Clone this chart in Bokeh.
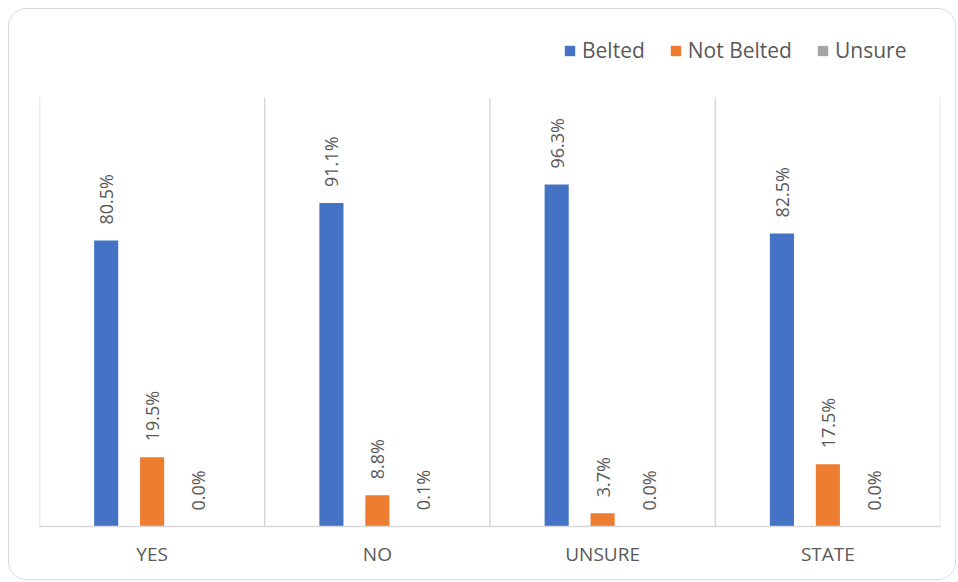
from bokeh.plotting import figure
from bokeh.models import ColumnDataSource, FactorRange, Legend, LegendItem
from bokeh.transform import dodge
from bokeh.core.properties import value
from bokeh.embed import file_html
from bokeh.resources import INLINE

categories = ["YES", "NO", "UNSURE", "STATE"]
belted = [80.5, 91.1, 96.3, 82.5]
not_belted = [19.5, 8.8, 3.7, 17.5]
unsure = [0.0, 0.1, 0.0, 0.0]
series_names = ["Belted", "Not Belted", "Unsure"]
series_colors = ["#4472C4", "#ED7D31", "#A5A5A5"]
axis_max = 120.8  # top of the value area (gridline tops)

FONT = "Open Sans"
TEXT_COLOR = "#595959"
GRID_COLOR = "#D9D9D9"

# layout (pixels)
W, H = 948, 572
MB_L, MB_R, MB_T, MB_B = 30, 17, 21, 55
plot_area_px = 429          # height of the value area below the legend strip
frame_px = H - MB_T - MB_B  # full frame height
y_end = axis_max * frame_px / plot_area_px

src = ColumnDataSource(dict(
    cat=categories,
    belted=belted, not_belted=not_belted, unsure=unsure,
    belted_lbl=[f"{v:.1f}%" for v in belted],
    not_belted_lbl=[f"{v:.1f}%" for v in not_belted],
    unsure_lbl=[f"{v:.1f}%" for v in unsure],
))

p = figure(
    x_range=FactorRange(*categories), y_range=(0, y_end),
    width=W, height=H, output_backend="svg", toolbar_location=None,
    min_border_left=MB_L, min_border_right=MB_R, min_border_top=MB_T, min_border_bottom=MB_B,
    styles={"border": "1px solid #D9D9D9", "border-radius": "18px",
            "margin-left": "8px", "margin-top": "8px"},
)
p.border_fill_color = None
p.background_fill_color = None
p.outline_line_color = None
p.xgrid.grid_line_color = None
p.ygrid.grid_line_color = None
p.yaxis.visible = False

ax = p.xaxis[0]
ax.axis_line_color = GRID_COLOR
ax.axis_line_width = 1.5
ax.major_tick_line_color = None
ax.minor_tick_line_color = None
ax.major_label_text_font = FONT
ax.major_label_text_font_size = "19px"
ax.major_label_text_color = TEXT_COLOR
ax.major_label_standoff = 8

# vertical separators between categories
bounds = list(range(len(categories) + 1))
p.segment(x0=bounds, y0=[0] * len(bounds), x1=bounds, y1=[axis_max] * len(bounds),
          line_color=GRID_COLOR, line_width=1.5)

offsets = [-0.204, 0.0, 0.204]
fields = ["belted", "not_belted", "unsure"]
items = []
for off, f, name, col in zip(offsets, fields, series_names, series_colors):
    r = p.vbar(x=dodge("cat", off, range=p.x_range), top=f, width=0.107, source=src,
               fill_color=col, line_color=None)
    items.append(LegendItem(label=name, renderers=[r]))
    p.text(x=dodge("cat", off, range=p.x_range), y=f, text=f + "_lbl", source=src,
           angle=1.5707963, text_align="left", text_baseline="middle", y_offset=-16,
           text_font=value(FONT), text_font_size="18px", text_color=TEXT_COLOR)

legend = Legend(items=items, orientation="horizontal", location=(524, 462),
                border_line_color=None, background_fill_color=None,
                padding=0, margin=0, spacing=24, label_standoff=6,
                glyph_width=13, glyph_height=13,
                label_text_font=FONT, label_text_font_size="21px",
                label_text_color=TEXT_COLOR)
p.add_layout(legend, "center")

open("out.html", "w").write(file_html(p, INLINE))
